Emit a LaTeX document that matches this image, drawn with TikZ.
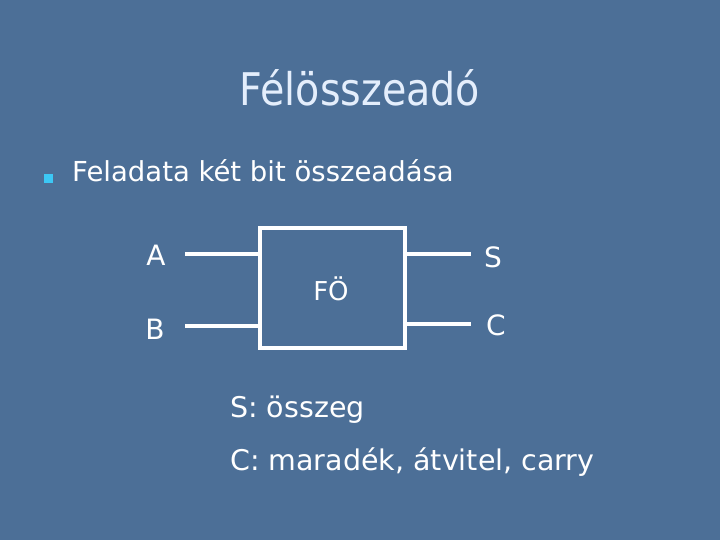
\documentclass[tikz,border=0pt]{standalone}
\usepackage{fontspec}
\setmainfont{DejaVu Sans}
\newfontfamily\titlefont{DejaVu Sans}[FakeStretch=0.88]
\usetikzlibrary{positioning}
\definecolor{slidebg}{RGB}{76,111,151}
\definecolor{titlefg}{RGB}{228,238,252}
\definecolor{bulletfg}{RGB}{60,200,245}

\begin{document}
\begin{tikzpicture}[x=1pt, y=-1pt,
    txt/.style={text=white, inner sep=0pt},
    wire/.style={draw=white, line width=3.2pt}]
  \fill[slidebg] (0,0) rectangle (720,540);

  % Nodes
  \node[txt, text=titlefg, anchor=base, font=\titlefont\fontsize{45}{50}\selectfont] (title) at (360,106) {Félösszeadó};
  \node[fill=bulletfg, minimum size=9pt, inner sep=0pt] (dot) at (48,179) {};
  \node[txt, anchor=base west, font=\fontsize{27.5}{32}\selectfont] (task) at (72,182) {Feladata két bit összeadása};

  \node[draw=white, line width=3.2pt, minimum width=145pt, minimum height=120pt] (fo) at (332.5,288) {};
  \node[txt, font=\fontsize{26}{30}\selectfont] (folabel) at (331,289) {FÖ};

  \node[txt, font=\fontsize{28}{32}\selectfont] (a) at (156,255) {A};
  \node[txt, font=\fontsize{28}{32}\selectfont] (b) at (155,329) {B};
  \node[txt, font=\fontsize{28}{32}\selectfont] (s) at (493,257) {S};
  \node[txt, font=\fontsize{28}{32}\selectfont] (c) at (496,325) {C};

  \coordinate (ain) at (185,254);
  \coordinate (bin) at (185,326);
  \coordinate (sout) at (471,254);
  \coordinate (cout) at (471,324);

  \node[txt, anchor=base west, font=\fontsize{28.5}{32}\selectfont] (sum) at (230,417) {S: összeg};
  \node[txt, anchor=base west, font=\fontsize{28.5}{32}\selectfont] (carry) at (230,470) {C: maradék, átvitel, carry};

  % Edges
  \draw[wire] (ain) -- (ain -| fo.west);
  \draw[wire] (bin) -- (bin -| fo.west);
  \draw[wire] (sout -| fo.east) -- (sout);
  \draw[wire] (cout -| fo.east) -- (cout);

\end{tikzpicture}
\end{document}
